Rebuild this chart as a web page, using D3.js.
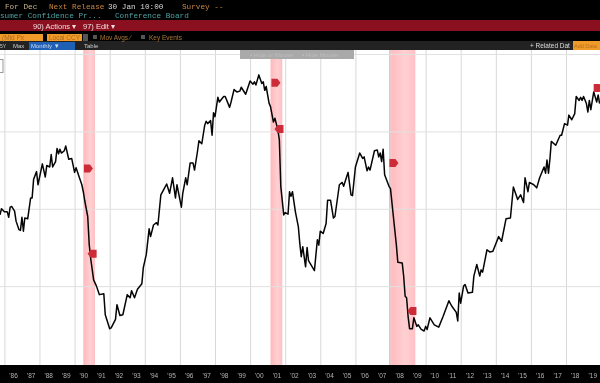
<!DOCTYPE html>
<html>
<head>
<meta charset="utf-8">
<script src="https://cdn.jsdelivr.net/npm/d3@7"></script>
<style>
  html, body { margin: 0; padding: 0; background: #000; }
  svg { display: block; filter: blur(0.35px); }
  text { font-family: "Liberation Sans", sans-serif; }
  .mono { font-family: "Liberation Mono", monospace; }
</style>
</head>
<body>
<div id="chart"></div>
<script>
// months counted from Jan 1986
var months = [-3,-2,0,2,3,4,5,7,8,10,11,12,13,14,16,18,19,20,22,23,26,28,29,31,32,33,35,36,37,38,39,41,42,44,46,48,49,51,53,54,55,57,58,59,61,63,65,68,69,72,73,76,77,79,81,84,86,87,89,91,94,95,97,99,100,102,104,105,107,109,111,113,115,116,117,118,121,122,124,125,127,129,130,132,133,
  135,137,138,139,141,142,143,144,146,147,150,151,154,155,157,159,161,162,165,168,170,171,172,174,176,177,178,179,181,182,184,185,187,188,189,191,192,194,195,196,197,199,201,202,203,204,206,207,208,212,214,215,216,218,220,221,223,225,226,229,231,232,234,235,237,238,240,243,245,246,248,249,250,253,255,256,257,258,259,260,263,264,
  266,268,269,272,273,274,275,276,277,279,280,282,283,285,287,288,289,291,294,297,300,304,306,309,310,311,312,314,315,317,320,321,323,325,326,327,330,332,334,338,340,343,346,348,351,353,355,356,358,359,362,364,366,369,370,371,372,373,374,377,380,381,383,385,386,388,390,391,393,394,395,396,398,399,400,401,403,405,406,407];
var values = [292,300,296,296,289,302,303,297,284,273,272,289,271,288,287,314,314,338,348,331,358,341,356,354,370,354,361,378,371,377,372,375,381,364,365,347,353,342,331,322,310,290,254,236,208,200,189,190,163,145,146,157,176,162,163,189,185,194,185,196,203,224,241,274,264,279,282,279,318,325,332,320,340,327,314,331,302,320,340,331,359,359,350,374,388,
  384,408,413,410,414,395,424,419,444,438,445,445,431,438,454,451,452,457,448,465,461,464,460,473,462,464,453,458,436,432,412,417,402,389,329,292,295,293,322,316,322,296,277,255,238,251,225,250,233,220,260,253,271,268,281,311,311,288,290,331,334,329,341,347,318,317,354,372,365,367,349,354,350,375,376,367,372,361,377,344,329,326,
  290,254,231,230,213,187,185,161,145,145,159,148,150,144,142,148,144,159,150,147,161,181,174,166,155,191,178,200,202,191,192,213,228,213,221,218,247,244,245,264,258,287,288,328,312,318,308,340,322,334,331,327,340,354,346,363,346,365,387,382,395,395,410,408,421,415,423,445,440,444,440,445,436,425,440,428,451,438,447,436];

var yearTicks = d3.range(0, 34);
var gridMonths = d3.range(0, 408, 24);
var gridValues = [200, 300, 400, 500];

// recessions, start / end month
var bandStart = [54, 182, 263];
var bandEnd = [62, 190, 281];

// event flags
var flagMonths = [57.5, 60, 185.7, 187.8, 266.4, 278.7, 406];
var flagValues = [352, 242, 463, 403, 359, 168, 456];
var flagDirs = [1, -1, 1, -1, 1, -1, 1];

var width = 600, height = 383,
plotTop = 50,
plotBottom = 365;

var svg = d3.select("#chart").append("svg")
  .attr("width", width)
  .attr("height", height);

var monthDate = function (m) { return new Date(Date.UTC(1986, Math.floor(m), 1) + (m - Math.floor(m)) * 2629800000); };

var x = d3.scaleUtc()
  .domain([monthDate(0), monthDate(408)])
  .range([4.4, 601.1]);
var y = d3.scaleLinear()
  .domain([100, 500])
  .range([363.5, 54]);

// terminal header
svg.append("rect").attr("width", width).attr("height", height).attr("fill", "#000");
svg.append("rect").attr("y", 20).attr("width", width).attr("height", 11).attr("fill", "#8a1020");
svg.append("rect").attr("y", 41).attr("width", width).attr("height", 9).attr("fill", "#222");
svg.append("rect").attr("y", plotTop).attr("width", width).attr("height", plotBottom - plotTop).attr("fill", "#fff");

var headerText = function (px, py, txt, col, size, cls) {
  return svg.append("text").attr("x", px).attr("y", py).attr("fill", col)
    .attr("font-size", size).attr("class", cls || null).text(txt);
};
headerText(5, 8.5, "For Dec", "#c8b48c", 7.7, "mono");
headerText(49, 8.5, "Next Release", "#c8873c", 7.7, "mono");
headerText(108, 8.5, "30 Jan 10:00", "#d8d8d8", 7.7, "mono");
headerText(182, 8.5, "Survey --", "#c8873c", 7.7, "mono");
headerText(0, 18, "sumer Confidence Pr...", "#4fa3a3", 7.7, "mono");
headerText(115, 18, "Conference Board", "#4fa3a3", 7.7, "mono");

headerText(33, 28.5, "90) Actions \u25BE", "#f0dcdc", 7.5);
headerText(83, 28.5, "97) Edit \u25BE", "#f0dcdc", 7.5);

svg.append("rect").attr("y", 34).attr("width", 43).attr("height", 7).attr("fill", "#f09a2a");
svg.append("rect").attr("x", 47).attr("y", 34).attr("width", 35).attr("height", 7).attr("fill", "#f09a2a");
svg.append("rect").attr("x", 83).attr("y", 34).attr("width", 5).attr("height", 7).attr("fill", "#555");
headerText(2, 40, "(Mid Px", "#a86a1c", 6.5);
headerText(49, 40, "Local CCY", "#a86a1c", 6.5);
svg.append("rect").attr("x", 93).attr("y", 35).attr("width", 4).attr("height", 4).attr("fill", "#555");
headerText(100, 40, "Mov Avgs \u2044", "#a87838", 6.5);
svg.append("rect").attr("x", 141).attr("y", 35).attr("width", 4).attr("height", 4).attr("fill", "#555");
headerText(149, 40, "Key Events", "#a87838", 6.5);

svg.append("rect").attr("x", 29).attr("y", 42).attr("width", 33).attr("height", 8).attr("fill", "#1f5fb4");
svg.append("rect").attr("x", 62).attr("y", 42).attr("width", 13).attr("height", 8).attr("fill", "#1f5fb4");
headerText(0, 48, "5Y", "#ccc", 5);
headerText(13, 48, "Max", "#ccc", 6);
headerText(31, 48, "Monthly \u25BC", "#cfdcf0", 6);
headerText(84, 48, "Table", "#ccc", 6);
headerText(530, 48, "+ Related Dat", "#ddd", 6.5);
svg.append("rect").attr("x", 573).attr("y", 41).attr("width", 27).attr("height", 9).attr("fill", "#f09a2a");
headerText(574, 48, "Add Data", "#b8721c", 5.5);

// recession bands
var grad = svg.append("defs").append("linearGradient").attr("id", "bandGradient");
grad.append("stop").attr("offset", "0%").attr("stop-color", "#ffb8bc");
grad.append("stop").attr("offset", "60%").attr("stop-color", "#ffd0d2");
grad.append("stop").attr("offset", "100%").attr("stop-color", "#ffc0c4");

svg.append("g").selectAll("rect").data(bandStart).join("rect")
  .attr("x", function (d) { return x(monthDate(d)); })
  .attr("y", plotTop)
  .attr("width", function (d, i) { return x(monthDate(bandEnd[i])) - x(monthDate(d)); })
  .attr("height", plotBottom - plotTop)
  .attr("fill", "url(#bandGradient)");

// grid
var gridX = svg.append("g")
  .attr("transform", "translate(0," + plotBottom + ")")
  .call(d3.axisBottom(x).tickValues(gridMonths.map(monthDate)).tickSize(-(plotBottom - plotTop)).tickFormat(""));
var gridY = svg.append("g")
  .attr("transform", "translate(" + width + ",0)")
  .call(d3.axisLeft(y).tickValues(gridValues).tickSize(width).tickFormat(""));
gridX.select(".domain").remove();
gridY.select(".domain").remove();
gridX.selectAll("line").attr("stroke", "#d8d8d8");
gridY.selectAll("line").attr("stroke", "#e0e0e0");

// tooltip strip and the small box at the left edge
svg.append("rect").attr("x", 240).attr("y", plotTop).attr("width", 114).attr("height", 9).attr("fill", "#a9a9a9");
headerText(250, 57, "\u25AA Hide or Mouse", "#bdbdbd", 6);
headerText(302, 57, "\u25AA Hide Mouse", "#bdbdbd", 6);
svg.append("rect").attr("x", -2).attr("y", 59.5).attr("width", 5).attr("height", 13)
  .attr("fill", "#fff").attr("stroke", "#999");

// series
var line = d3.line()
  .x(function (d) { return x(monthDate(d)); })
  .y(function (d, i) { return y(values[i]); });
svg.append("path")
  .attr("d", line(months))
  .attr("fill", "none")
  .attr("stroke", "#050505")
  .attr("stroke-width", 1.5)
  .attr("stroke-linejoin", "round");

// flags, pointing right for a start, left for an end
var flagPath = function (dir) {
  return d3.line()(dir > 0
    ? [[-4.5, -4], [1.5, -4], [4.5, 0], [1.5, 4], [-4.5, 4]]
    : [[4.5, -4], [-1.5, -4], [-4.5, 0], [-1.5, 4], [4.5, 4]]) + "Z";
};
svg.append("g").selectAll("path").data(flagMonths).join("path")
  .attr("transform", function (d, i) { return "translate(" + x(monthDate(d)) + "," + y(flagValues[i]) + ")"; })
  .attr("d", function (d, i) { return flagPath(flagDirs[i]); })
  .attr("fill", "#cc2c38");

// year labels
svg.append("rect").attr("y", plotBottom).attr("width", width).attr("height", height - plotBottom).attr("fill", "#000");
var xAxis = svg.append("g")
  .attr("transform", "translate(0," + plotBottom + ")")
  .call(d3.axisBottom(x)
    .tickValues(yearTicks.map(function (k) { return monthDate(k * 12 + 6); }))
    .tickSize(0)
    .tickPadding(8)
    .tickFormat(d3.utcFormat("'%y")));
xAxis.select(".domain").remove();
xAxis.selectAll("text").attr("fill", "#b4b4b4").attr("font-size", 6.5).attr("font-family", "'Liberation Sans', sans-serif");
</script>
</body>
</html>
